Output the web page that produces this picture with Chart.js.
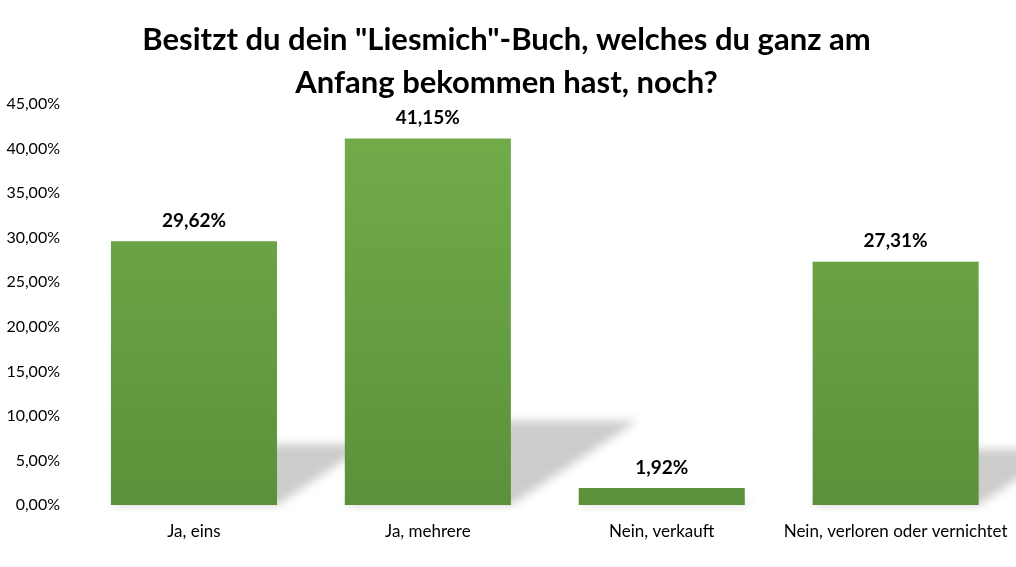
<!DOCTYPE html>
<html>
<head>
<meta charset="utf-8">
<script src="https://cdn.jsdelivr.net/npm/chart.js@4"></script>
<style>
  body { margin: 0; background: #fff; }
  #wrap { width: 1016px; height: 567px; }
</style>
</head>
<body>
<div id="wrap"><canvas id="chart"></canvas></div>
<script>
const categories = ["Ja, eins", "Ja, mehrere", "Nein, verkauft", "Nein, verloren oder vernichtet"];
const shares = [29.62, 41.15, 1.92, 27.31];
const titleLines = ["Besitzt du dein \"Liesmich\"-Buch, welches du ganz am", "Anfang bekommen hast, noch?"];

function fmt(v) {
  return v.toFixed(2).replace(".", ",") + "%";
}

// perspective shadow behind the bars
const shadowPlugin = {
  id: "barShadow",
  beforeDatasetsDraw(chart) {
    const ctx = chart.ctx;
    const meta = chart.getDatasetMeta(0);
    ctx.save();
    ctx.filter = "blur(5px)";
    ctx.fillStyle = "rgba(0,0,0,0.2)";
    meta.data.forEach((bar) => {
      const half = bar.width / 2;
      const left = bar.x - half, right = bar.x + half;
      const h = bar.base - bar.y;
      const sh = h * 0.23;
      const dx = sh * 1.5;
      ctx.beginPath();
      ctx.moveTo(left, bar.base);
      ctx.lineTo(right, bar.base);
      ctx.lineTo(right + dx, bar.base - sh);
      ctx.lineTo(left + dx, bar.base - sh);
      ctx.closePath();
      ctx.fill();
    });
    ctx.restore();
  }
};

const labelPlugin = {
  id: "valueLabels",
  afterDatasetsDraw(chart) {
    const ctx = chart.ctx;
    const meta = chart.getDatasetMeta(0);
    ctx.save();
    ctx.font = "bold 19px Lato";
    ctx.fillStyle = "#000";
    ctx.textAlign = "center";
    ctx.textBaseline = "bottom";
    meta.data.forEach((bar, i) => {
      ctx.fillText(fmt(shares[i]), bar.x, bar.y - 11);
    });
    ctx.restore();
  }
};

const ctx = document.getElementById("chart").getContext("2d");
new Chart(ctx, {
  type: "bar",
  data: {
    labels: categories,
    datasets: [{
      data: shares,
      backgroundColor: function (context) {
        const area = context.chart.chartArea;
        if (!area) return "#6aa545";
        const g = context.chart.ctx.createLinearGradient(0, area.top, 0, area.bottom);
        g.addColorStop(0, "#73ae4a");
        g.addColorStop(1, "#5b913a");
        return g;
      },
      categoryPercentage: 0.71,
      barPercentage: 1
    }]
  },
  options: {
    responsive: true,
    maintainAspectRatio: false,
    animation: false,
    layout: { padding: { left: 0, right: 3, top: 0, bottom: 0 } },
    plugins: {
      legend: { display: false },
      tooltip: { enabled: false },
      title: {
        display: true,
        text: titleLines,
        color: "#000",
        font: { family: "Lato", size: 31, weight: "bold", lineHeight: 1.39 },
        padding: { top: 18, bottom: 0 }
      }
    },
    scales: {
      x: {
        grid: { display: false },
        border: { display: false },
        ticks: { color: "#000", font: { family: "Lato", size: 17 }, padding: 8, maxRotation: 0 },
        afterFit(scale) { scale.height = 62; }
      },
      y: {
        min: 0,
        max: 45,
        grid: { display: false },
        border: { display: false },
        ticks: {
          stepSize: 5,
          color: "#000",
          font: { family: "Lato", size: 16 },
          padding: 9,
          callback: (v) => fmt(v)
        },
        afterFit(scale) { scale.width = 77; }
      }
    }
  },
  plugins: [shadowPlugin, labelPlugin]
});
</script>
</body>
</html>
